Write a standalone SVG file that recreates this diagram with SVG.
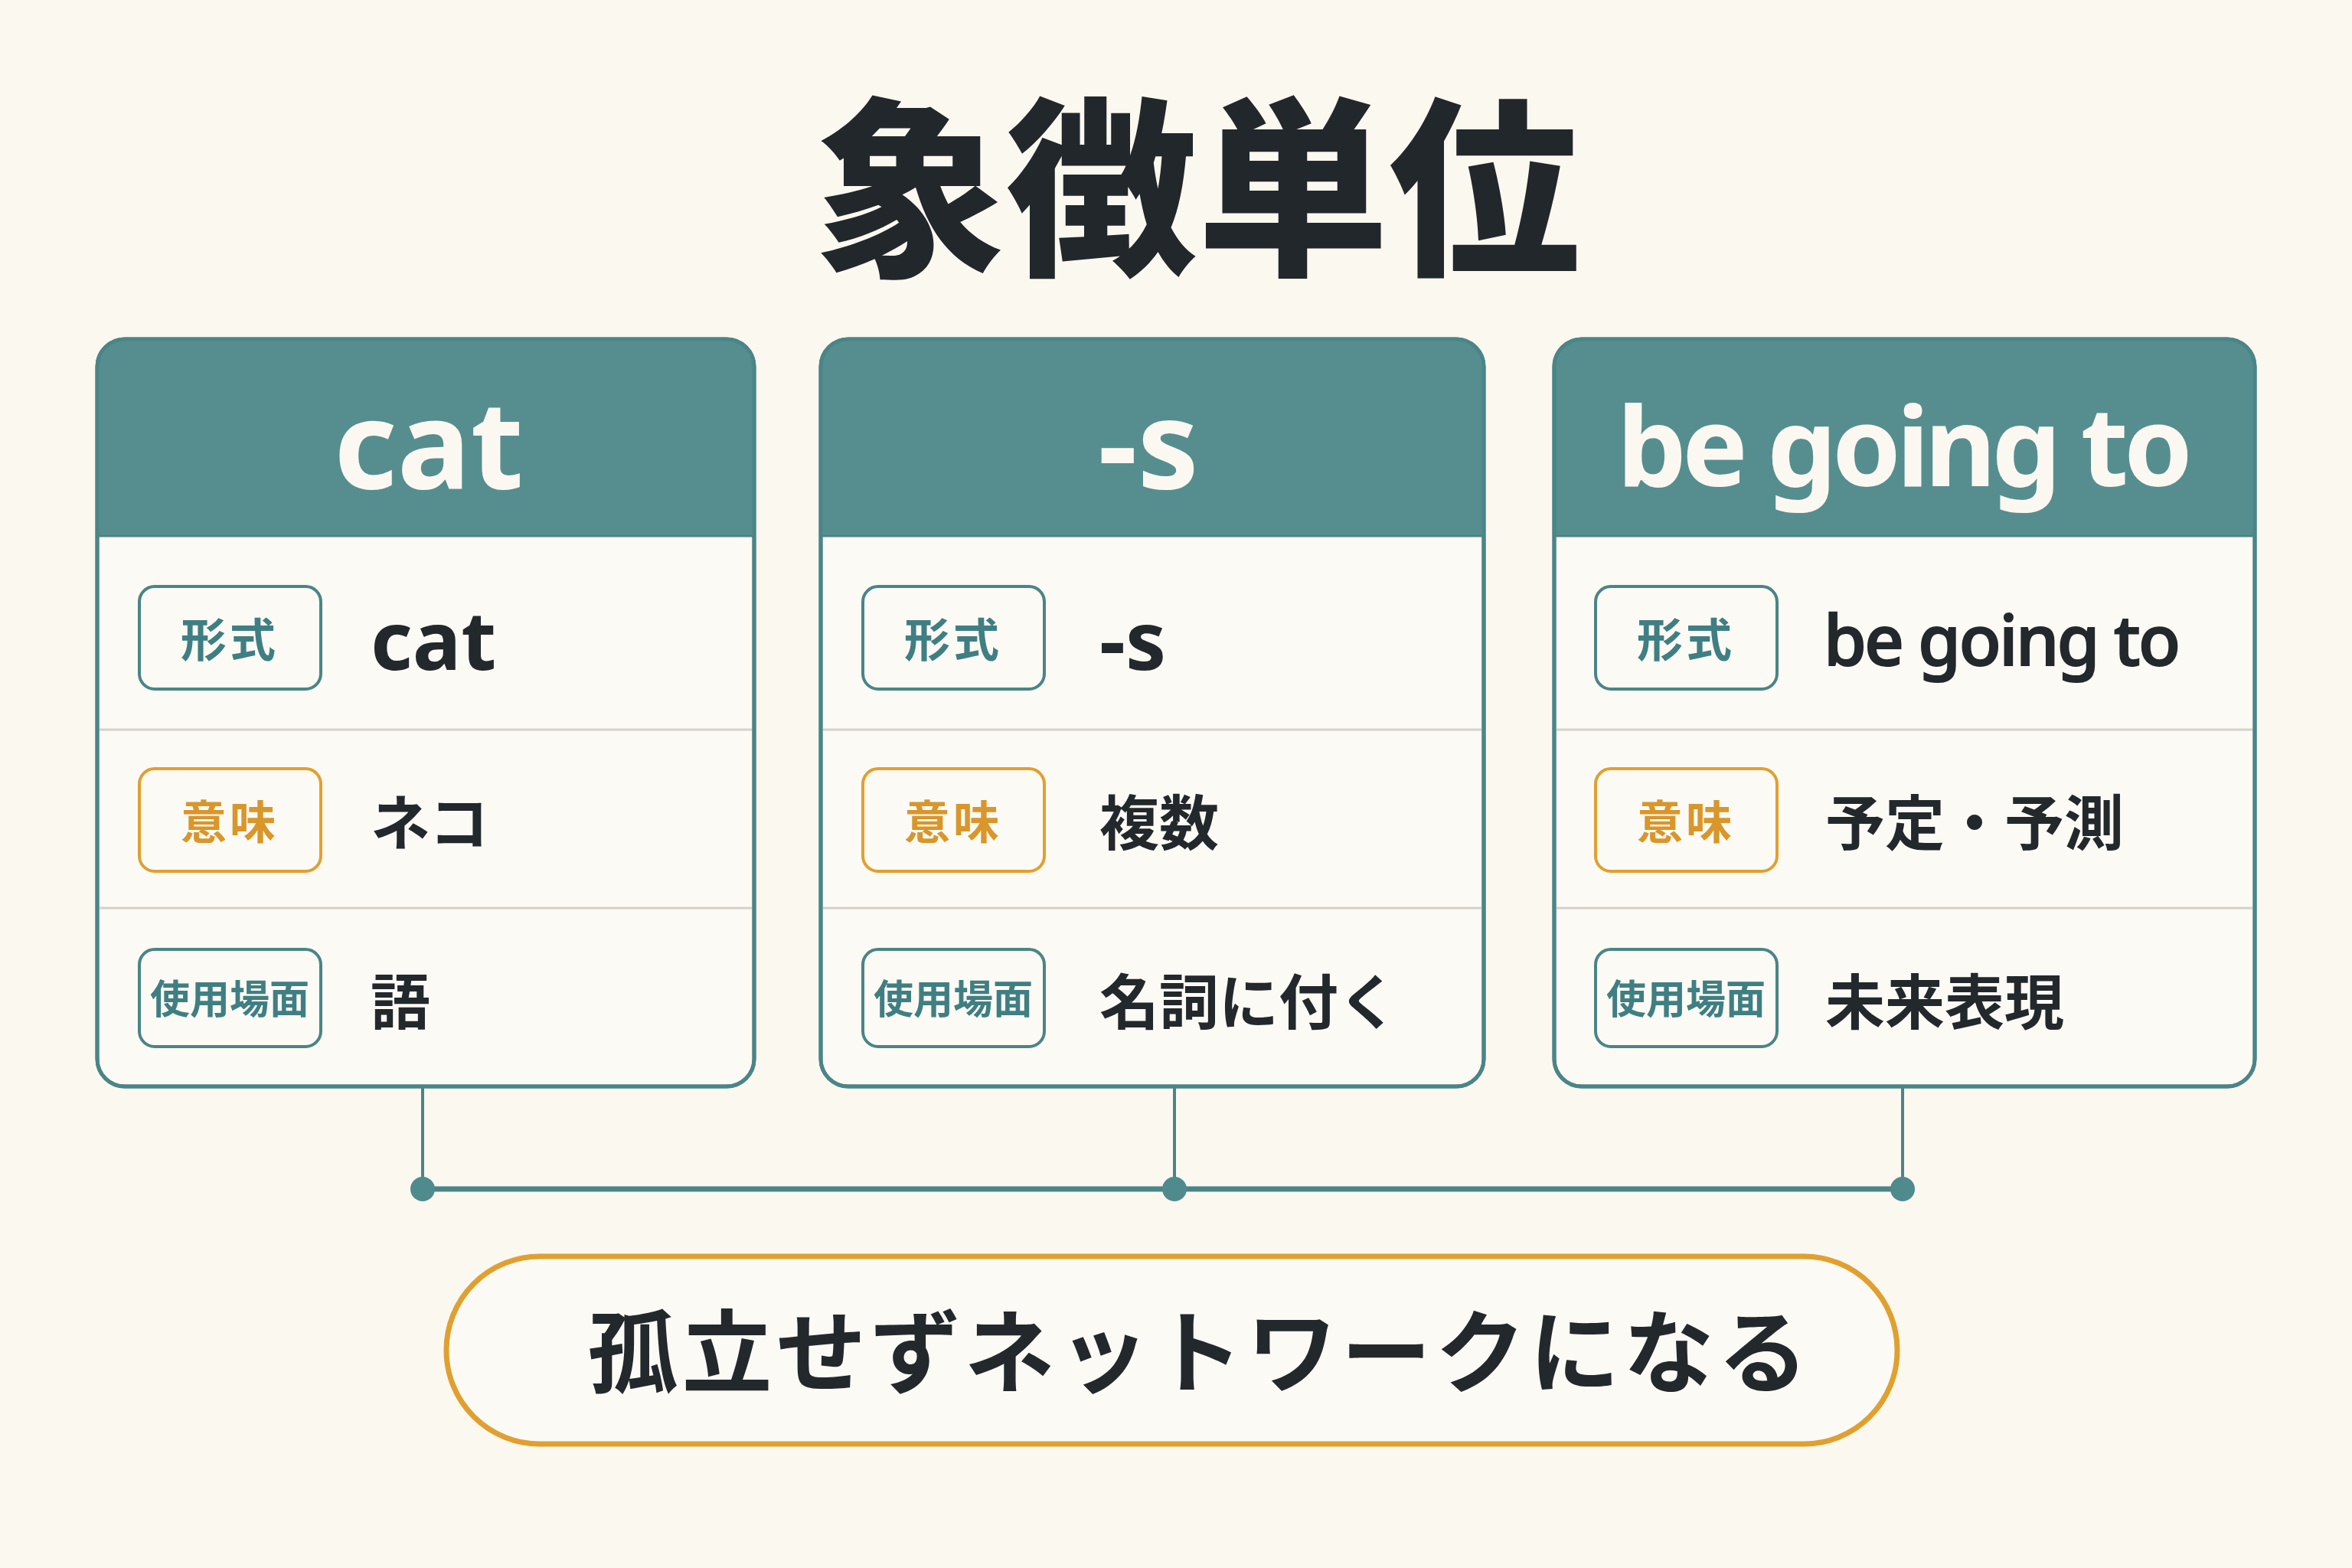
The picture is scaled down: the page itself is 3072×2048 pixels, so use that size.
<svg xmlns="http://www.w3.org/2000/svg" width="3072" height="2048" viewBox="0 0 3072 2048">
<style>
.card{fill:#FCFAF4;stroke:#4A8587;stroke-width:5}
.head{fill:#568E8F}
.hline{stroke:#4A8587;stroke-width:3}
.div{stroke:#D5D2CB;stroke-width:3}
.tagT{fill:none;stroke:#4A8587;stroke-width:4}
.tagO{fill:none;stroke:#E0A030;stroke-width:4}
.jp{font-family:"Noto Sans CJK JP","Noto Sans",sans-serif}
.en{font-family:"Noto Sans","Liberation Sans",sans-serif}
.htxt{fill:#FBF8F2;font-weight:700;text-anchor:middle}
.ttxt{fill:#3F7F83;font-weight:700;text-anchor:middle}
.otxt{fill:#D9962A;font-weight:700;text-anchor:middle}
.val{fill:#23282C;font-weight:700}
.conn{stroke:#4A8587;fill:none}
</style>
<rect x="0" y="0" width="3072" height="2048" fill="#FBF8F0"/>
<g id="title">
<text x="1564" y="340" class="jp" font-size="250" font-weight="900" fill="#22272B" text-anchor="middle">象徴単位</text>
</g>
<g id="connectors">
<line class="conn" x1="552" y1="1419" x2="552" y2="1553" stroke-width="4"/>
<line class="conn" x1="1534" y1="1419" x2="1534" y2="1553" stroke-width="4"/>
<line class="conn" x1="2485" y1="1419" x2="2485" y2="1553" stroke-width="4"/>
<line class="conn" x1="552" y1="1553" x2="2485" y2="1553" stroke-width="7"/>
<circle cx="552" cy="1553" r="16" fill="#4F8A8C"/>
<circle cx="1534" cy="1553" r="16" fill="#4F8A8C"/>
<circle cx="2485" cy="1553" r="16" fill="#4F8A8C"/>
</g>
<g id="card-cat">
<rect class="card" x="127" y="443" width="858" height="976" rx="36"/>
<path class="head" d="M127,700 V479 A36,36 0 0 1 163,443 H949 A36,36 0 0 1 985,479 V700 Z"/>
<rect x="127" y="443" width="858" height="976" rx="36" fill="none" stroke="#4A8587" stroke-width="5"/>
<line class="hline" x1="127" y1="700" x2="985" y2="700"/>
<line class="div" x1="130" y1="953" x2="982" y2="953"/>
<line class="div" x1="130" y1="1186" x2="982" y2="1186"/>
<text x="560" y="638" class="en htxt" font-size="160">cat</text>
<rect class="tagT" x="182" y="766" width="237" height="134" rx="20"/>
<text x="300" y="858" class="jp ttxt" font-size="60" letter-spacing="4">形式</text>
<rect class="tagO" x="182" y="1004" width="237" height="134" rx="20"/>
<text x="300" y="1096" class="jp otxt" font-size="60" letter-spacing="4">意味</text>
<rect class="tagT" x="182" y="1240" width="237" height="127" rx="20"/>
<text x="300" y="1324" class="jp ttxt" font-size="52">使用場面</text>
<text x="484" y="875" class="en val" font-size="106">cat</text>
<text x="484" y="1104" class="jp val" font-size="78">ネコ</text>
<text x="484" y="1338" class="jp val" font-size="78">語</text>
</g>
<g id="card-s">
<rect class="card" x="1072" y="443" width="866" height="976" rx="36"/>
<path class="head" d="M1072,700 V479 A36,36 0 0 1 1108,443 H1902 A36,36 0 0 1 1938,479 V700 Z"/>
<rect x="1072" y="443" width="866" height="976" rx="36" fill="none" stroke="#4A8587" stroke-width="5"/>
<line class="hline" x1="1072" y1="700" x2="1938" y2="700"/>
<line class="div" x1="1075" y1="953" x2="1935" y2="953"/>
<line class="div" x1="1075" y1="1186" x2="1935" y2="1186"/>
<text x="1500" y="638" class="en htxt" font-size="160">-s</text>
<rect class="tagT" x="1127" y="766" width="237" height="134" rx="20"/>
<text x="1245" y="858" class="jp ttxt" font-size="60" letter-spacing="4">形式</text>
<rect class="tagO" x="1127" y="1004" width="237" height="134" rx="20"/>
<text x="1245" y="1096" class="jp otxt" font-size="60" letter-spacing="4">意味</text>
<rect class="tagT" x="1127" y="1240" width="237" height="127" rx="20"/>
<text x="1245" y="1324" class="jp ttxt" font-size="52">使用場面</text>
<text x="1436" y="875" class="en val" font-size="106">-s</text>
<text x="1436" y="1104" class="jp val" font-size="78">複数</text>
<text x="1436" y="1338" class="jp val" font-size="78">名詞に付く</text>
</g>
<g id="card-begoingto">
<rect class="card" x="2030" y="443" width="915" height="976" rx="36"/>
<path class="head" d="M2030,700 V479 A36,36 0 0 1 2066,443 H2909 A36,36 0 0 1 2945,479 V700 Z"/>
<rect x="2030" y="443" width="915" height="976" rx="36" fill="none" stroke="#4A8587" stroke-width="5"/>
<line class="hline" x1="2030" y1="700" x2="2945" y2="700"/>
<line class="div" x1="2033" y1="953" x2="2942" y2="953"/>
<line class="div" x1="2033" y1="1186" x2="2942" y2="1186"/>
<text x="2488" y="635" class="en htxt" font-size="144" textLength="752">be going to</text>
<rect class="tagT" x="2084" y="766" width="237" height="134" rx="20"/>
<text x="2202" y="858" class="jp ttxt" font-size="60" letter-spacing="4">形式</text>
<rect class="tagO" x="2084" y="1004" width="237" height="134" rx="20"/>
<text x="2202" y="1096" class="jp otxt" font-size="60" letter-spacing="4">意味</text>
<rect class="tagT" x="2084" y="1240" width="237" height="127" rx="20"/>
<text x="2202" y="1324" class="jp ttxt" font-size="52">使用場面</text>
<text x="2382" y="869" class="en" font-size="90" font-weight="500" fill="#23282C" stroke="#23282C" stroke-width="2" textLength="466">be going to</text>
<text x="2384" y="1104" class="jp val" font-size="78">予定・予測</text>
<text x="2384" y="1338" class="jp val" font-size="78">未来表現</text>
</g>
<g id="summary">
<rect x="583" y="1641" width="1895" height="245" rx="122" fill="#FCFAF4" stroke="#E0A030" stroke-width="7"/>
<text x="1567" y="1810" class="jp" font-size="118" font-weight="700" fill="#23282C" text-anchor="middle" letter-spacing="5">孤立せずネットワークになる</text>
</g>
</svg>
